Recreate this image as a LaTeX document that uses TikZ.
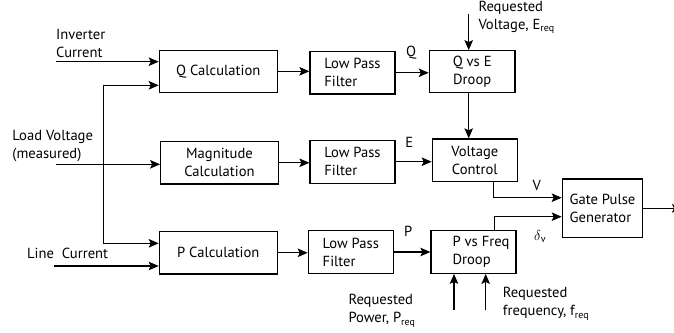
\documentclass[tikz,border=0pt]{standalone}
\usepackage{fontspec}
\setmainfont{PT Sans}
\usetikzlibrary{arrows.meta}
\newcommand{\sbx}[1]{\raisebox{-0.35ex}{\fontsize{10}{10}\selectfont #1}}
\begin{document}
\begin{tikzpicture}[x=1pt,y=-1pt,
  font=\fontsize{14.6}{18}\selectfont,
  blk/.style={draw,line width=1.2pt,inner sep=0pt,align=center},
  lblk/.style={blk,align=left},
  arr/.style={line width=1.2pt,-{Stealth[length=10pt,width=8.5pt,inset=2pt]}},
  lbl/.style={inner sep=0pt,align=left}]
\useasboundingbox (0,0) rectangle (674,332);
% blocks
\node[blk,minimum width=118pt,minimum height=42pt] (qcalc) at (218.3,71.3) {Q Calculation};
\node[blk,minimum width=117.6pt,minimum height=42.3pt] (mcalc) at (219.5,162.8) {Magnitude\\Calculation};
\node[blk,minimum width=118pt,minimum height=42.3pt] (pcalc) at (218.3,252.8) {P Calculation};
\node[lblk,minimum width=85pt,minimum height=42.3pt] (lpfa) at (352.5,72.8) {Low Pass\\Filter};
\node[lblk,minimum width=85pt,minimum height=43pt] (lpfb) at (352.5,161.7) {Low Pass\\Filter};
\node[lblk,minimum width=85pt,minimum height=42.6pt] (lpfc) at (350.8,252) {Low Pass\\Filter};
\node[blk,minimum width=85.7pt,minimum height=42pt] (qe) at (472.2,71.7) {Q vs E\\Droop};
\node[blk,minimum width=85pt,minimum height=42.7pt] (vc) at (474.8,160.3) {Voltage\\Control};
\node[lblk,minimum width=85pt,minimum height=42.6pt] (pf) at (473.5,252) {\hspace*{15pt}P vs Freq\\\hspace*{15pt}Droop};
\node[lblk,minimum width=80.4pt,minimum height=58.7pt] (gate) at (602.5,208.3) {Gate Pulse\\Generator};
% input labels
\node[lbl,anchor=west] (tinv) at (56,43) {Inverter\\Current};
\node[lbl,anchor=west] (tlv) at (12.3,146) {Load Voltage\\(measured)};
\node[lbl,anchor=west] (tlc) at (27,253.3) {Line~~Current};
\node[lbl,anchor=west] (treqv) at (478.3,17.5) {Requested\\Voltage, E\sbx{req}};
\node[lbl,anchor=west] (treqp) at (348.3,310.8) {Requested\\Power, P\sbx{req}};
\node[lbl,anchor=west] (treqf) at (502.7,303.8) {Requested\\frequency, f\sbx{req}};
\node[lbl] (tq) at (411,52.3) {Q};
\node[lbl] (te) at (409.3,142.3) {E};
\node[lbl] (tp) at (408.3,231.7) {P};
\node[lbl] (tv) at (536.7,185) {V};
\node[lbl] (td) at (540,236.7) {$\delta$\sbx{v}};
% coordinates
\coordinate (inv) at (56,61.7);
\coordinate (lv) at (56,164.3);
\coordinate (vj) at (103.3,164.3);
\coordinate (vtop) at (103.3,85.3);
\coordinate (vbot) at (103.3,243.3);
\coordinate (lc) at (54,266);
\coordinate (ereq) at (468.7,14);
\coordinate (vx) at (493.3,197.7);
\coordinate (dx) at (494.3,216.7);
\coordinate (out) at (682,208.3);
\coordinate (preq) at (454,310);
\coordinate (freq) at (485.7,310);
% connectors
\draw[arr] (inv) -- (inv -| qcalc.west);
\draw[arr] (lv) -- (lv -| mcalc.west);
\draw[arr] (vj) -- (vtop) -- (vtop -| qcalc.west);
\draw[arr] (vj) -- (vbot) -- (vbot -| pcalc.west);
\draw[arr] (lc) -- (lc -| pcalc.west);
\draw[arr] (qcalc.east) -- (qcalc.east -| lpfa.west);
\draw[arr] (mcalc.east) -- (mcalc.east -| lpfb.west);
\draw[arr] (pcalc.east) -- (pcalc.east -| lpfc.west);
\draw[arr] (lpfa.east) -- (lpfa.east -| qe.west);
\draw[arr] (lpfb.east) -- (lpfb.east -| vc.west);
\draw[arr] (lpfc.east) -- (lpfc.east -| pf.west);
\draw[arr] (ereq) -- (ereq |- qe.north);
\draw[arr] (ereq |- qe.south) -- (ereq |- vc.north);
\draw[arr] (vx |- vc.south) -- (vx) -- (vx -| gate.west);
\draw[arr] (dx |- pf.north) -- (dx) -- (dx -| gate.west);
\draw[arr] (gate.east) -- (out);
\draw[arr] (preq) -- (preq |- pf.south);
\draw[arr] (freq) -- (freq |- pf.south);
\end{tikzpicture}
\end{document}
